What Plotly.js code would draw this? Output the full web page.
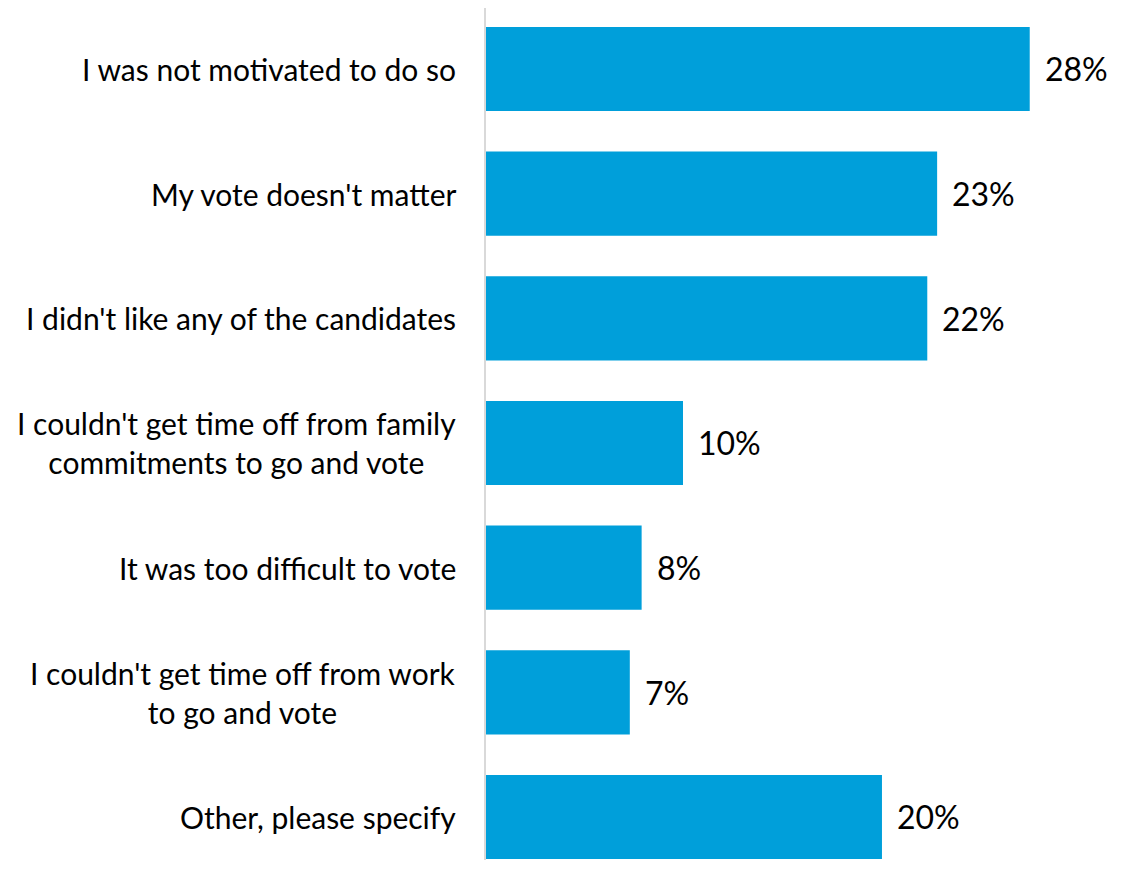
<!DOCTYPE html>
<html>
<head>
<meta charset="utf-8">
<script src="https://cdn.plot.ly/plotly-3.0.1.min.js"></script>
<style>
  html, body { margin: 0; padding: 0; background: #ffffff; }
  #chart { width: 1130px; height: 870px; }
</style>
</head>
<body>
<div id="chart"></div>
<script>
// Data
const categories = [
  "I was not motivated to do so",
  "My vote doesn't matter",
  "I didn't like any of the candidates",
  "I couldn't get time off from family<br>commitments to go and vote",
  "It was too difficult to vote",
  "I couldn't get time off from work<br>to go and vote",
  "Other, please specify"
];
const values = [27.6, 22.9, 22.4, 10.0, 7.9, 7.3, 20.1];
const valueLabels = ["28%", "23%", "22%", "10%", "8%", "7%", "20%"];

const FONT = "Lato, 'Open Sans', 'DejaVu Sans', sans-serif";
const BAR_COLOR = "#009FDA";

const trace = {
  type: "bar",
  orientation: "h",
  x: values,
  y: categories,
  width: 0.675,
  marker: { color: BAR_COLOR, line: { width: 0 } },
  hoverinfo: "skip"
};

const annotations = [];
categories.forEach((c, i) => {
  annotations.push({
    x: 0, y: c, xref: "x", yref: "y",
    text: c, showarrow: false,
    xanchor: "right", yanchor: "middle", align: "center",
    xshift: -28,
    font: { family: FONT, size: 30, color: "#000000" }
  });
  annotations.push({
    x: values[i], y: c, xref: "x", yref: "y",
    text: valueLabels[i], showarrow: false,
    xanchor: "left", yanchor: "middle",
    xshift: 13,
    font: { family: FONT, size: 32, color: "#000000" }
  });
});

const layout = {
  width: 1130,
  height: 870,
  margin: { l: 486, r: 0, t: 8, b: 10, pad: 0 },
  paper_bgcolor: "#ffffff",
  plot_bgcolor: "#ffffff",
  showlegend: false,
  font: { family: FONT, color: "#000000" },
  xaxis: {
    range: [0, 32.69],
    visible: false,
    showgrid: false,
    zeroline: false,
    fixedrange: true
  },
  yaxis: {
    type: "category",
    categoryorder: "array",
    categoryarray: categories,
    range: [6.345, -0.489],
    showticklabels: false,
    ticks: "",
    showgrid: false,
    zeroline: false,
    showline: true,
    linecolor: "#D9D9D9",
    linewidth: 2,
    fixedrange: true
  },
  annotations: annotations
};

Plotly.newPlot("chart", [trace], layout, { displayModeBar: false, staticPlot: true });
</script>
</body>
</html>
